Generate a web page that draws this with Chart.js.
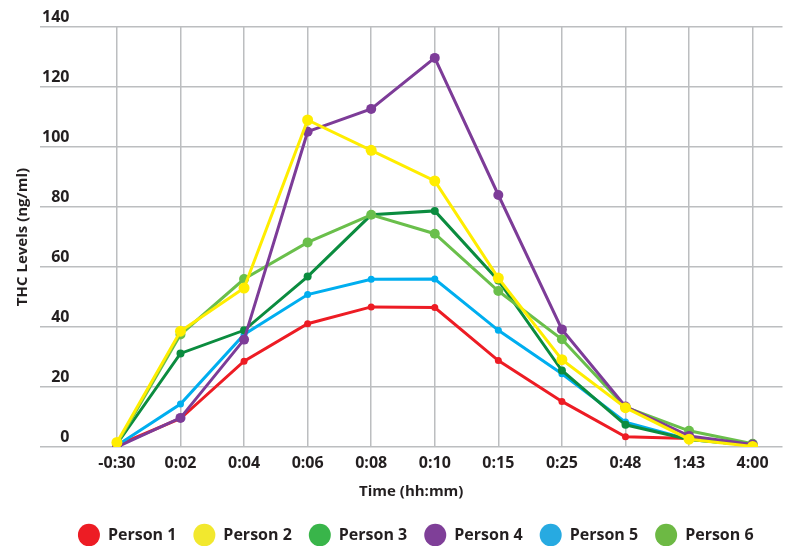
<!doctype html>
<html lang="en">
<head>
<meta charset="UTF-8">
<title>THC Levels over time</title>
<script src="https://cdn.jsdelivr.net/npm/chart.js"></script>
<style>
body{margin:0;background:#fff;}
#wrap{width:788px;height:546px;}
</style>
</head>
<body>
<div id="wrap"><canvas id="chart"></canvas></div>
<script>
/* ---------- data ---------- */
const timeLabels = ["-0:30","0:02","0:04","0:06","0:08","0:10","0:15","0:25","0:48","1:43","4:00"];
const seriesNames = ["Person 1","Person 2","Person 3","Person 4","Person 5","Person 6"];
const person1 = [0.5, 9.5, 28.6, 41.1, 46.7, 46.5, 28.8, 15.2, 3.4, 2.8, 0.5];
const person2 = [1.5, 38.6, 53, 109, 98.9, 88.7, 56.3, 29.1, 13.1, 2.6, 0.2];
const person3 = [1, 31.2, 38.9, 56.8, 77.4, 78.7, 55.5, 25.5, 7.4, 2.5, 0.6];
const person4 = [0, 9.7, 35.8, 105.1, 112.7, 129.7, 84, 39.2, 13.5, 3.7, 0.8];
const person5 = [0.5, 14.3, 37.5, 50.8, 55.9, 56, 38.9, 24.4, 8.3, 2.5, 0.6];
const person6 = [1, 37.5, 56, 68.2, 77.4, 71.1, 52, 35.9, 13.3, 5.4, 1.1];

/* ---------- style ---------- */
const lineColors   = ["#ED1C24","#FFED00","#0B8C3F","#7D3C98","#00AEEF","#6ABF4B"];
const legendColors = ["#ED1C24","#F2E82E","#39B54A","#7F3F98","#27AAE1","#6DB944"];
const pointSizes   = [3.5, 5.5, 4, 5, 3.5, 5];
const drawOrder    = [6, 1, 4, 2, 5, 3];   // lower = drawn on top
const FONT = "'Open Sans', 'DejaVu Sans', sans-serif";
const GRID = "#BCBEC0";
const INK = "#231F20";

const allSeries = [person1, person2, person3, person4, person5, person6];

const datasets = allSeries.map((vals, i) => ({
  label: seriesNames[i],
  data: vals.map((y, x) => ({x, y})),
  borderColor: lineColors[i],
  backgroundColor: lineColors[i],
  pointBackgroundColor: lineColors[i],
  pointBorderWidth: 0,
  pointRadius: pointSizes[i],
  borderWidth: 3,
  tension: 0,
  order: drawOrder[i]
}));

// legend sits a little right of the plot centre in the original
const nudgeLegend = {
  id: "nudgeLegend",
  afterLayout(chart) { chart.legend.left += 4.5; chart.legend.right += 4.5; }
};

const ctx = document.getElementById("chart").getContext("2d");
new Chart(ctx, {
  type: "line",
  data: {datasets},
  plugins: [nudgeLegend],
  options: {
    responsive: true,
    maintainAspectRatio: false,
    animation: false,
    layout: {padding: {top: 27, left: 11, right: 3, bottom: -7}},
    plugins: {
      tooltip: {enabled: false},
      legend: {
        position: "bottom",
        fullSize: false,
        labels: {
          usePointStyle: true,
          pointStyle: "circle",
          pointStyleWidth: 22,
          boxHeight: 16,
          padding: 17,
          color: INK,
          font: {family: FONT, size: 16, weight: "bold"},
          sort: (a, b) => a.datasetIndex - b.datasetIndex,
          generateLabels: chart => Chart.defaults.plugins.legend.labels.generateLabels(chart).map(it => {
            it.fillStyle = legendColors[it.datasetIndex];
            it.strokeStyle = legendColors[it.datasetIndex];
            it.lineWidth = 0;
            return it;
          })
        }
      }
    },
    scales: {
      x: {
        type: "linear",
        min: -1.21,
        max: 10.47,
        afterBuildTicks: s => { s.ticks = timeLabels.map((_, i) => ({value: i})); },
        border: {display: false},
        grid: {color: GRID, lineWidth: 1.5, drawTicks: false},
        ticks: {
          autoSkip: false, maxRotation: 0, padding: 7,
          color: INK,
          font: {family: FONT, size: 16, weight: "bold"},
          callback: v => timeLabels[v]
        },
        title: {
          display: true, text: "Time (hh:mm)", color: INK,
          font: {family: FONT, size: 15, weight: "bold"},
          padding: {top: 2.4, bottom: 9.4}
        }
      },
      y: {
        min: 0, max: 140,
        border: {display: false},
        grid: {color: GRID, lineWidth: 1.5, drawTicks: false},
        ticks: {
          stepSize: 20, mirror: true, crossAlign: "far", padding: 2, labelOffset: -10,
          color: INK,
          font: {family: FONT, size: 16, weight: "bold"}
        },
        title: {
          display: true, text: "THC Levels (ng/ml)", color: INK,
          font: {family: FONT, size: 15, weight: "bold"},
          padding: {top: 3, bottom: 4}
        }
      }
    }
  }
});
</script>
</body>
</html>
